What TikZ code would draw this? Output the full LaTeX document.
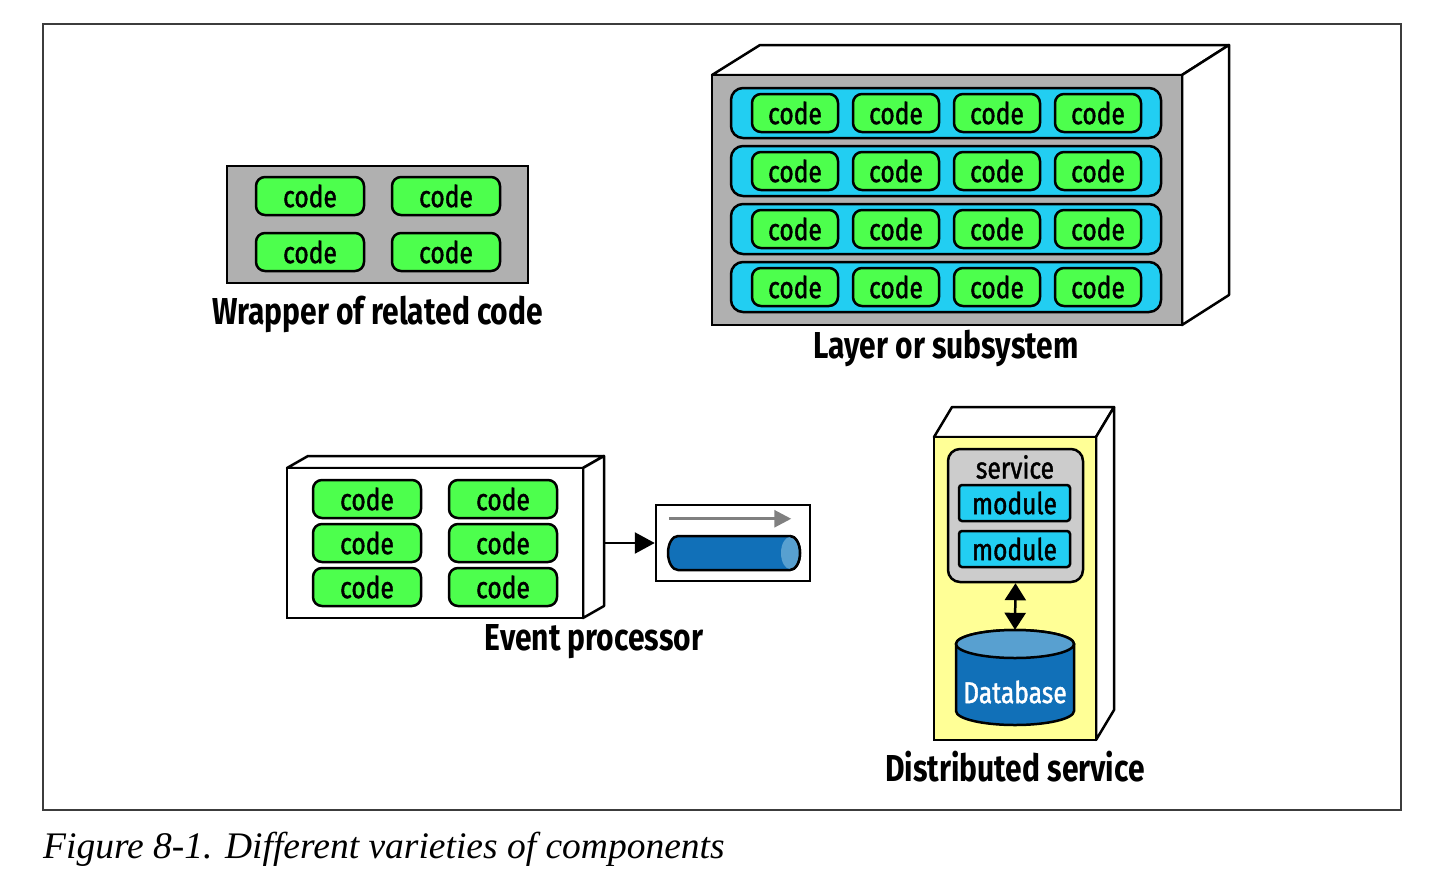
\documentclass[tikz,border=0pt]{standalone}
\usepackage{fontspec}
\usepackage{tikz}
\usetikzlibrary{calc,arrows.meta,positioning,shapes.geometric}
\newfontfamily\codefont[FakeStretch=0.82, FakeBold=1.4]{Fira Sans}
\newfontfamily\labelfont[FakeStretch=0.8]{Fira Sans}
\newfontfamily\capfont{Liberation Serif}
\definecolor{codegreen}{RGB}{77,255,77}
\definecolor{rowblue}{RGB}{34,206,242}
\definecolor{wrapgray}{RGB}{176,176,176}
\definecolor{servgray}{RGB}{204,204,204}
\definecolor{distyellow}{RGB}{255,255,150}
\definecolor{dbblue}{RGB}{17,112,184}
\definecolor{dblight}{RGB}{88,160,208}
\definecolor{framegray}{RGB}{60,60,60}
\tikzset{
  codebox/.style={draw, line width=2.5pt, rounded corners=9pt, fill=codegreen,
    minimum width=108pt, minimum height=38pt, inner sep=0pt,
    font=\codefont\fontsize{30}{30}\selectfont},
  rowbox/.style={draw, line width=2.5pt, rounded corners=12pt, fill=rowblue,
    minimum width=430pt, minimum height=50pt, inner sep=0pt},
  module/.style={draw, line width=2.5pt, rounded corners=3pt, fill=rowblue,
    minimum width=111pt, minimum height=36pt, inner sep=0pt,
    font=\codefont\fontsize{30}{30}\selectfont},
  caption/.style={font=\labelfont\bfseries\fontsize{37.5}{37.5}\selectfont, inner sep=0pt},
  face/.style={draw, line width=2.5pt, line join=round, fill=white}
}
\begin{document}
\begin{tikzpicture}[x=1pt, y=-1pt]
    \useasboundingbox (0,0) rectangle (1456,894);
    % Marco
    \draw[line width=1.3pt, framegray] (43,24) rectangle (1401,810);
    \node[font=\capfont\itshape\fontsize{37.5}{37.5}\selectfont, anchor=base west, inner sep=0pt]
      (fig) at (43,858) {Figure 8-1. Different varieties of components};

    % Wrapper of related code
    \node[draw, line width=2.5pt, fill=wrapgray, minimum width=301pt, minimum height=117pt,
      inner sep=0pt] (wrap) at (377.5,224.5) {};
    \foreach \r/\y in {1/196,2/252}{
      \foreach \c/\x in {1/310,2/446}{
        \node[codebox] (w\r\c) at (\x,\y) {code};
      }
    }
    \node[caption] (wraplbl) at (377.5,314) {Wrapper of related code};

    % Layer or subsystem (caja 3D)
    \draw[face] (712,75) -- (760,45) -- (1229,45) -- (1182,75) -- cycle;
    \draw[face] (1182,75) -- (1229,45) -- (1229,295) -- (1182,325) -- cycle;
    \node[draw, line width=2.5pt, fill=wrapgray, minimum width=470pt, minimum height=250pt,
      inner sep=0pt] (layer) at (947,200) {};
    \foreach \r/\y in {1/113,2/171,3/229,4/287}{
      \node[rowbox] (row\r) at (946,\y) {};
      \foreach \c/\x in {1/795,2/896,3/997,4/1098}{
        \node[codebox, minimum width=86pt] (l\r\c) at (\x,\y) {code};
      }
    }
    \node[caption] (layerlbl) at (946,348) {Layer or subsystem};

    % Event processor
    \draw[face] (287,468) -- (308,456) -- (604,456) -- (583,468) -- cycle;
    \draw[face] (583,468) -- (604,456) -- (604,606) -- (583,618) -- cycle;
    \node[draw, line width=2.5pt, fill=white, minimum width=296pt, minimum height=150pt,
      inner sep=0pt] (evt) at (435,543) {};
    \foreach \r/\y in {1/499,2/543,3/587}{
      \foreach \c/\x in {1/367,2/503}{
        \node[codebox] (e\r\c) at (\x,\y) {code};
      }
    }
    \coordinate (evtside) at (604,543);
    \node[draw, line width=2.5pt, fill=white, minimum width=154pt, minimum height=76pt,
      inner sep=0pt] (queue) at (733,543) {};
    \draw[line width=2.5pt, -{Triangle[length=20pt, width=21pt]}] (evtside) -- (queue.west);
    % cola de eventos
    \draw[line width=3pt, gray, -{Triangle[length=17pt, width=17pt]}]
      ($(queue.north west)+(14,15)$) -- ($(queue.north east)+(-20,15)$);
    \draw[line width=2.5pt, fill=dbblue] (790,536) -- (678,536)
      arc[start angle=-90, end angle=-270, x radius=10, y radius=17] -- (790,570)
      arc[start angle=-270, end angle=-450, x radius=10, y radius=17] -- cycle;
    \fill[dblight] (790,553) ellipse [x radius=9, y radius=16];
    \draw[line width=2.5pt] (790,536) arc[start angle=-90, end angle=90, x radius=10, y radius=17];
    \node[caption] (evtlbl) at (594,642) {Event processor};

    % Distributed service
    \draw[face] (934,437) -- (952,407) -- (1114,407) -- (1096,437) -- cycle;
    \draw[face] (1096,437) -- (1114,407) -- (1114,710) -- (1096,740) -- cycle;
    \node[draw, line width=2.5pt, fill=distyellow, minimum width=162pt, minimum height=303pt,
      inner sep=0pt] (dist) at (1015,588.5) {};
    \node[draw, line width=2.5pt, fill=servgray, rounded corners=12pt, minimum width=135pt,
      minimum height=133pt, inner sep=0pt] (serv) at (1015.5,515.5) {};
    \node[font=\codefont\fontsize{30}{30}\selectfont] (servlbl) at (1015,467) {service};
    \node[module] (mod1) at (1014.5,503) {module};
    \node[module] (mod2) at (1014.5,549) {module};
    % base de datos
    \draw[line width=2.5pt, fill=dbblue] (956,644) -- (956,711)
      arc[start angle=-180, end angle=-360, x radius=59, y radius=14] -- (1074,644)
      arc[start angle=0, end angle=-180, x radius=59, y radius=14] -- cycle;
    \draw[line width=2.5pt, fill=dblight] (1015,644) ellipse [x radius=59, y radius=14];
    \node[inner sep=0pt, minimum width=118pt, minimum height=95pt] (db) at (1015,677.5) {};
    \node[text=white, font=\codefont\fontsize{30}{30}\selectfont] (dblbl) at (1015,692) {Database};
    \draw[line width=2.5pt, {Triangle[length=17pt, width=21pt]}-{Triangle[length=17pt, width=21pt]}]
      (serv.south) -- (db.north);
    \node[caption] (distlbl) at (1015,767) {Distributed service};
  \end{tikzpicture}
\end{document}
